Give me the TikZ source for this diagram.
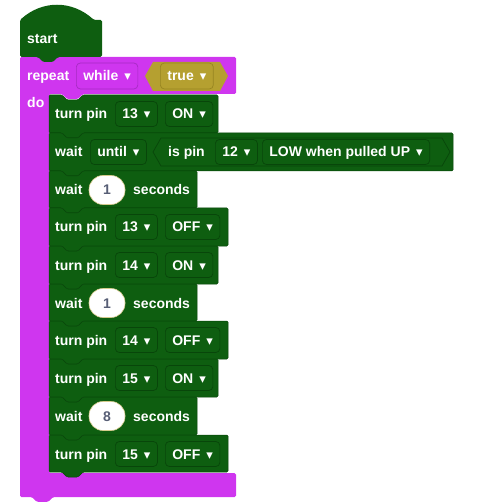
\documentclass[tikz,border=0pt]{standalone}
\usepackage{fontspec}
\setmainfont{Liberation Sans}
\newfontfamily\symfont{DejaVu Sans}
\usepackage{tikz}
\usetikzlibrary{positioning}
\definecolor{BKGreen}{HTML}{0E5E10}
\definecolor{BKGreenEdge}{HTML}{08460A}
\definecolor{BKPurple}{HTML}{CF36EF}
\definecolor{BKPurpleEdge}{HTML}{A62AC2}
\definecolor{BKGold}{HTML}{B5A030}
\definecolor{BKGoldEdge}{HTML}{978521}
\definecolor{BKNum}{HTML}{575E75}

\newcommand{\ddarrow}{\hspace{6pt}{\symfont\fontsize{13}{13}\selectfont ▾}}
% statement block: left, top, right, bottom
\newcommand{\stmtblock}[4]{%
  \path[fill=BKGreen, draw=BKGreenEdge, line width=0.5, rounded corners=1.2]
    (#1,#2) -- ({#1+13},#2) -- ({#1+18},{#2+5}) -- ({#1+29},{#2+5}) -- ({#1+34},#2)
    -- (#3,#2) -- (#3,#4) -- ({#1+34},#4) -- ({#1+29},{#4+5}) -- ({#1+18},{#4+5})
    -- ({#1+13},#4) -- (#1,#4) -- cycle;}

\begin{document}
\begin{tikzpicture}[x=1pt, y=-1pt,
  lbl/.style={text=white, font=\bfseries\fontsize{14}{16}\selectfont, inner sep=0,
    text height=10, text depth=0},
  field/.style={lbl, draw=BKGreenEdge, fill=BKGreen, line width=0.7,
    rounded corners=4, minimum height=25, inner xsep=7},
  numfield/.style={lbl, text=BKNum, fill=white, draw=BKGold!55, line width=0.6,
    rounded corners=14, minimum height=29, minimum width=36}]
\useasboundingbox (0,0) rectangle (478,502);
% repeat block
\path[fill=BKPurple, rounded corners=1.5]
  (20,57) -- (236,57) -- (236,94) -- (83,94) -- (78,99) -- (67,99) -- (62,94)
  -- (49,94) -- (49,473) -- (236,473) -- (236,497) -- (53,497) -- (48,502)
  -- (37,502) -- (32,497) -- (20,497) -- cycle;
\node[lbl, anchor=west] (repeat) at (27,76) {repeat};
\node[lbl, anchor=west, draw=BKPurpleEdge, fill=BKPurple, line width=0.7,
  rounded corners=4, minimum height=26, inner xsep=7] (while) at (76,76) {while\ddarrow};
\path[fill=BKGold] (145,76) -- (153,62) -- (220,62) -- (228,76) -- (220,91) -- (153,91) -- cycle;
\node[field, anchor=west, draw=BKGoldEdge, fill=BKGold, minimum height=26] (true) at (160,76) {true\ddarrow};
\node[lbl, anchor=west] (do) at (27,103) {do};
% start block
\path[fill=BKGreen, rounded corners=1.5]
  (20,57) -- (20,20) .. controls (42,0) and (72,0) .. (94,20) -- (102,20)
  -- (102,57) -- (58,57) -- (53,62) -- (43,62) -- (38,57) -- cycle;
\node[lbl, anchor=west] (start) at (27,39) {start};
% statement blocks
\foreach \top/\bot/\rgt in {95/133/218, 133/171/453, 171/208/197, 208/246/228,
    246/284/218, 284/321/197, 321/359/228, 359/397/218, 397/435/197, 435/472/228}
  {\stmtblock{49}{\top}{\rgt}{\bot}}
% turn pin rows
\foreach \top/\pin/\state/\id in {95/13/ON/a, 208/13/OFF/b, 246/14/ON/c,
    321/14/OFF/d, 359/15/ON/e, 435/15/OFF/f} {
  \node[lbl, anchor=west] (turn\id) at (55,\top+19) {turn pin};
  \node[field, anchor=west] (pin\id) at (115,\top+19) {\pin\ddarrow};
  \node[field, anchor=west] (state\id) at (165,\top+19) {\state\ddarrow};
}
% wait rows
\foreach \top/\sec/\id in {171/1/a, 284/1/b, 397/8/c} {
  \node[lbl, anchor=west] (wait\id) at (55,\top+19) {wait};
  \node[numfield] (sec\id) at (107,\top+19) {\sec};
  \node[lbl, anchor=west] (seconds\id) at (133,\top+19) {seconds};
}
% wait until row
\node[lbl, anchor=west] (waitu) at (55,152) {wait};
\node[field, anchor=west] (until) at (90,152) {until\ddarrow};
\path[fill=BKGreen, draw=BKGreenEdge, line width=0.7]
  (153,152) -- (161,138) -- (442,138) -- (450,152) -- (442,166) -- (161,166) -- cycle;
\node[lbl, anchor=west] (ispin) at (168,152) {is pin};
\node[field, anchor=west] (pinin) at (215,152) {12\ddarrow};
\node[field, anchor=west] (level) at (262,152) {LOW when pulled UP\ddarrow};
\end{tikzpicture}
\end{document}
